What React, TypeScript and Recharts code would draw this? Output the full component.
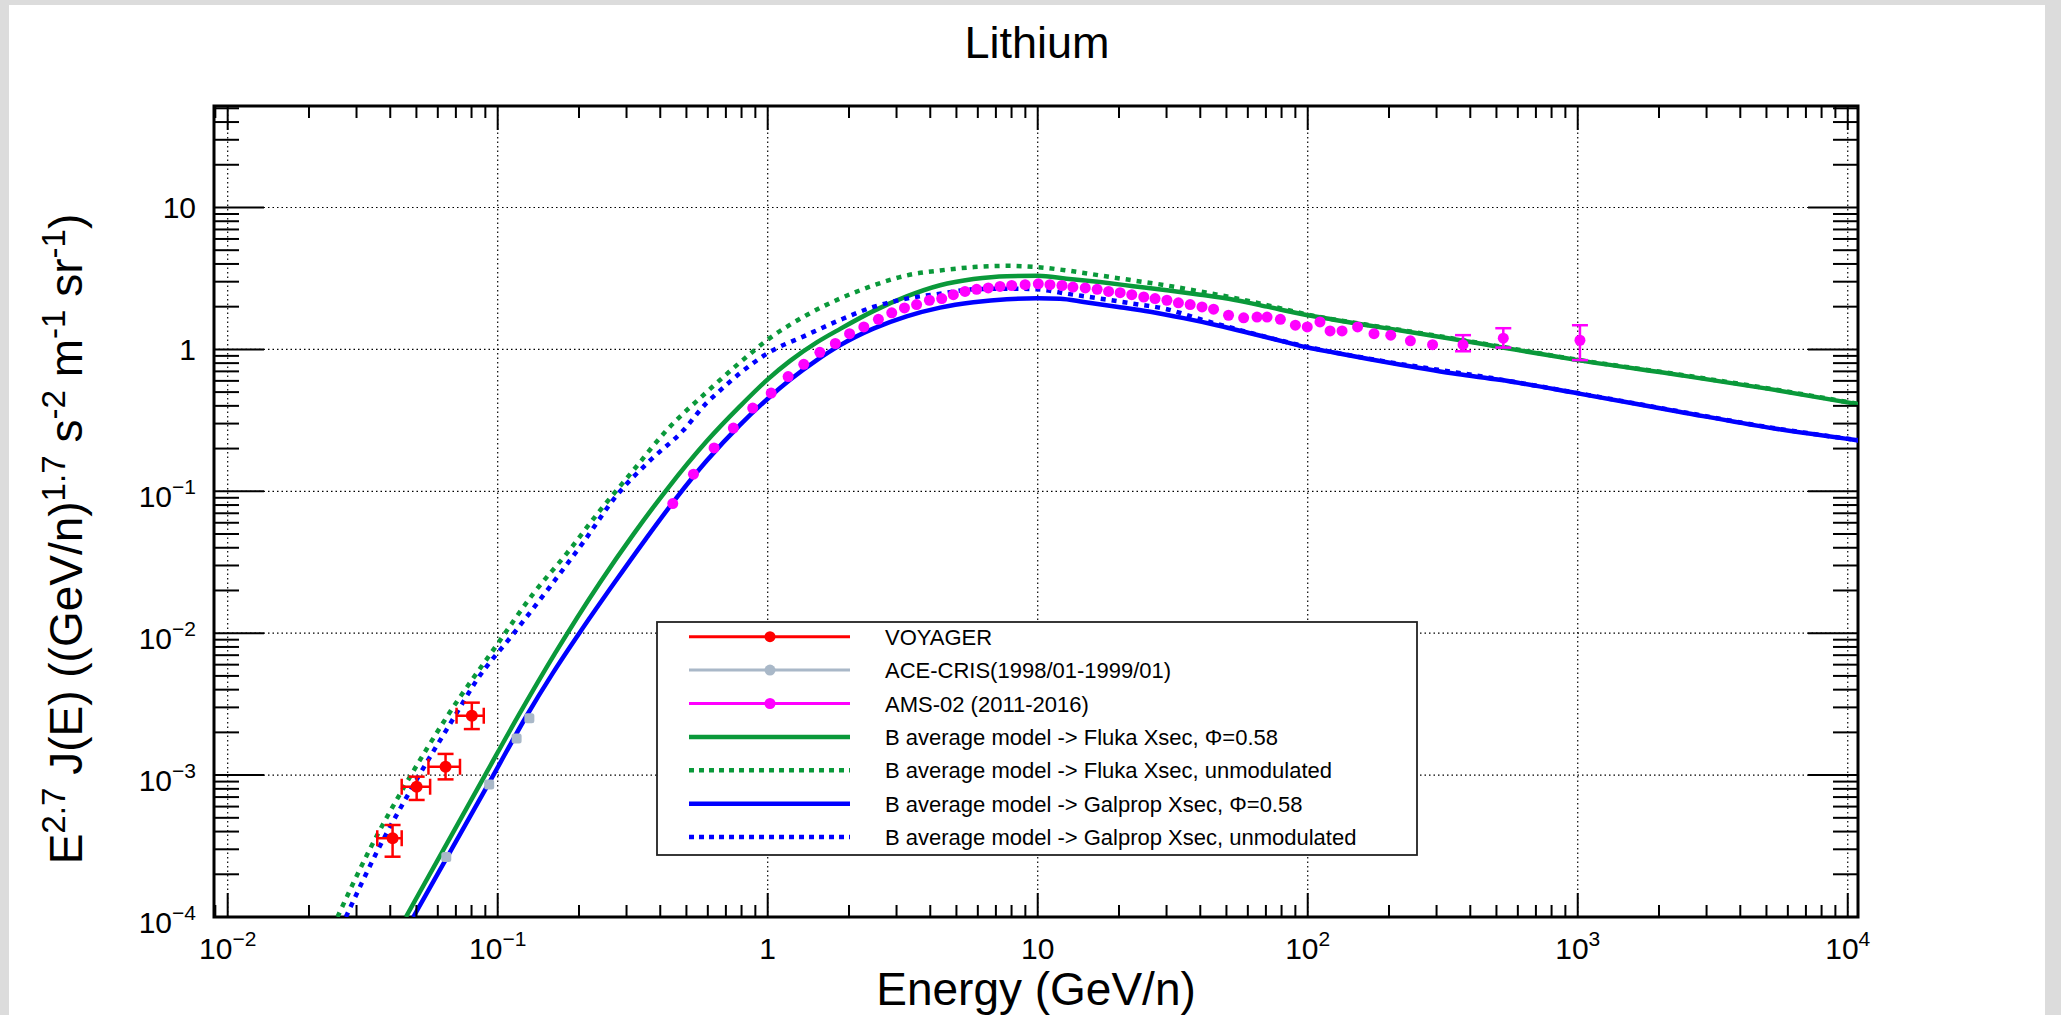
import React from 'react';
import {
  ComposedChart,
  Line,
  Scatter,
  XAxis,
  YAxis,
  ErrorBar,
  ReferenceLine,
  ReferenceArea,
} from 'recharts';

const CANVAS_W = 2061;
const CANVAS_H = 1015;
const FONT = '"Liberation Sans", Arial, Helvetica, sans-serif';

// plot frame in page pixels
const FRAME = { left: 214, top: 106, right: 1858, bottom: 917 };

// ---------- axis ranges and labels ----------
const energyRange: [number, number] = [0.008898, 10914];
const fluxRange: [number, number] = [1e-4, 51.9];

const xDecades = [0.01, 0.1, 1, 10, 100, 1000, 10000];
const xDecadeLabels: [string, string][] = [
  ['10', '\u22122'],
  ['10', '\u22121'],
  ['1', ''],
  ['10', ''],
  ['10', '2'],
  ['10', '3'],
  ['10', '4'],
];
const yDecades = [1e-4, 1e-3, 1e-2, 0.1, 1, 10];
const yDecadeLabels: [string, string][] = [
  ['10', '\u22124'],
  ['10', '\u22123'],
  ['10', '\u22122'],
  ['10', '\u22121'],
  ['1', ''],
  ['10', ''],
];

const chartTitle = 'Lithium';
const xTitle = 'Energy (GeV/n)';

// ---------- measurements ----------
// VOYAGER
const voyagerE = [0.0408, 0.0501, 0.0641, 0.0802];
const voyagerELo = [0.0358, 0.0441, 0.0554, 0.0704];
const voyagerEHi = [0.0441, 0.0562, 0.0725, 0.0888];
const voyagerV = [3.59e-4, 8.28e-4, 1.145e-3, 2.62e-3];
const voyagerVLo = [2.66e-4, 6.68e-4, 9.33e-4, 2.11e-3];
const voyagerVHi = [4.45e-4, 9.75e-4, 1.41e-3, 3.24e-3];

// ACE-CRIS
const aceE = [0.0645, 0.093, 0.1175, 0.131];
const aceV = [2.65e-4, 8.6e-4, 1.81e-3, 2.52e-3];

// AMS-02
const amsE = [
  0.445, 0.531, 0.633, 0.746, 0.88, 1.03, 1.19, 1.36, 1.56, 1.78,
  2.01, 2.27, 2.57, 2.88, 3.21, 3.56, 3.97, 4.41, 4.87, 5.38,
  5.94, 6.56, 7.25, 8.01, 8.98, 10.05, 11.1, 12.3, 13.5, 15.0,
  16.6, 18.3, 20.2, 22.3, 24.7, 27.2, 30.1, 33.2, 36.7, 40.6,
  44.8, 50.9, 57.9, 64.9, 70.7, 79.2, 90, 99.6, 111, 121,
  134, 153, 176, 203, 240, 290, 376, 530, 1019,
];
const amsV = [
  0.082, 0.132, 0.202, 0.279, 0.386, 0.492, 0.643, 0.785, 0.953, 1.1,
  1.29, 1.44, 1.63, 1.81, 1.96, 2.07, 2.22, 2.28, 2.43, 2.56,
  2.65, 2.71, 2.78, 2.82, 2.86, 2.9, 2.86, 2.82, 2.75, 2.71,
  2.65, 2.56, 2.51, 2.43, 2.34, 2.28, 2.22, 2.13, 2.07, 1.99,
  1.92, 1.74, 1.67, 1.69, 1.69, 1.63, 1.48, 1.44, 1.56, 1.35,
  1.35, 1.44, 1.29, 1.26, 1.15, 1.08, 1.08, 1.2, 1.16,
];
// AMS-02 points with visible uncertainties
const amsErrE = [376, 530, 1019];
const amsErrLo = [0.97, 1.03, 0.84];
const amsErrHi = [1.26, 1.41, 1.48];

// ---------- model curves ----------
const flukaModE = [
  0.0457, 0.0898, 0.1193, 0.163, 0.239, 0.318, 0.423, 0.594, 0.79, 1,
  1.21, 1.52, 1.85, 2.46, 3.27, 4.35, 5.78, 7.68, 10, 12.8,
  17, 22.6, 30.1, 40, 53.2, 70.7, 100, 125, 166, 221,
  358, 513, 1000, 2371, 5093, 11000,
];
const flukaModV = [
  1.0e-4, 1.0e-3, 2.62e-3, 7.2e-3, 0.0227, 0.0497, 0.1029, 0.225, 0.398, 0.615,
  0.83, 1.12, 1.39, 1.86, 2.36, 2.83, 3.13, 3.28, 3.3, 3.15,
  2.98, 2.79, 2.61, 2.43, 2.24, 2.0, 1.74, 1.62, 1.48, 1.36,
  1.17, 1.04, 0.84, 0.66, 0.527, 0.41,
];

const flukaUnmodE = [
  0.0255, 0.0336, 0.046, 0.0545, 0.0648, 0.1, 0.1355, 0.18, 0.239, 0.318,
  0.423, 0.594, 0.79, 1, 1.39, 1.85, 2.46, 3.27, 4.35, 5.78,
  7.68, 10, 12.8, 17, 22.6, 30.1, 40, 53.2, 70.7, 100,
  166, 221, 513, 1000, 2371, 5093, 11000,
];
const flukaUnmodV = [
  1.0e-4, 3.0e-4, 8.87e-4, 1.52e-3, 2.57e-3, 8.43e-3, 0.019, 0.0364, 0.073, 0.1406,
  0.27, 0.5, 0.81, 1.17, 1.74, 2.28, 2.82, 3.32, 3.6, 3.8,
  3.88, 3.8, 3.6, 3.32, 3.06, 2.82, 2.56, 2.31, 2.05, 1.76,
  1.49, 1.37, 1.05, 0.845, 0.665, 0.53, 0.412,
];

const galpropModE = [
  0.0487, 0.0964, 0.128, 0.16, 0.202, 0.268, 0.356, 0.46, 0.594, 0.79,
  1, 1.21, 1.52, 1.85, 2.46, 3.27, 4.35, 5.78, 7.68, 10,
  12.1, 14.8, 19.6, 26.1, 34.7, 46.1, 61.3, 81.5, 100, 125,
  166, 221, 358, 513, 1000, 2371, 5093, 11000,
];
const galpropModV = [
  1.0e-4, 1.0e-3, 2.62e-3, 5.23e-3, 0.0102, 0.0221, 0.047, 0.0903, 0.164, 0.294,
  0.449, 0.61, 0.84, 1.067, 1.4, 1.71, 1.97, 2.15, 2.26, 2.29,
  2.27, 2.16, 2.0, 1.84, 1.66, 1.48, 1.3, 1.135, 1.03, 0.95,
  0.86, 0.78, 0.67, 0.61, 0.49, 0.364, 0.281, 0.228,
];

const galpropUnmodE = [
  0.0274, 0.0361, 0.0494, 0.0695, 0.0836, 0.1143, 0.156, 0.208, 0.276, 0.367,
  0.487, 0.594, 0.647, 0.79, 1, 1.39, 1.85, 2.46, 3.27, 4.35,
  5.78, 7.68, 10, 12.8, 17, 22.6, 30.1, 40, 61.3, 100,
  166, 513, 1000, 2371, 5093, 11000,
];
const galpropUnmodV = [
  1.0e-4, 3.0e-4, 8.87e-4, 2.62e-3, 4.66e-3, 9.9e-3, 0.0212, 0.044, 0.0937, 0.165,
  0.269, 0.42, 0.488, 0.68, 0.94, 1.26, 1.61, 1.99, 2.28, 2.47,
  2.65, 2.68, 2.65, 2.47, 2.28, 2.1, 1.92, 1.63, 1.31, 1.04,
  0.865, 0.615, 0.492, 0.366, 0.283, 0.229,
];

const legendLabels = [
  'VOYAGER',
  'ACE-CRIS(1998/01-1999/01)',
  'AMS-02 (2011-2016)',
  'B average model -> Fluka Xsec, \u03A6=0.58',
  'B average model -> Fluka Xsec, unmodulated',
  'B average model -> Galprop Xsec, \u03A6=0.58',
  'B average model -> Galprop Xsec, unmodulated',
];

// ---------- styling ----------
const RED = '#ff0000';
const ACE_GREY = '#a9b8c8';
const MAGENTA = '#ff00ff';
const GREEN = '#0a993a';
const BLUE = '#0000ff';
const DOTS = '5 6';

// ---------- derived tables ----------
const pairs = (es: number[], vs: number[]) => es.map((e, i) => ({ e, v: vs[i] }));

const voyagerData = voyagerE.map((e, i) => ({
  e,
  v: voyagerV[i],
  ex: [e - voyagerELo[i], voyagerEHi[i] - e],
  ey: [voyagerV[i] - voyagerVLo[i], voyagerVHi[i] - voyagerV[i]],
}));
const aceData = pairs(aceE, aceV);
const amsPlain = amsE
  .map((e, i) => ({ e, v: amsV[i] }))
  .filter((p) => amsErrE.indexOf(p.e) < 0);
const amsWithErr = amsErrE.map((e, k) => {
  const v = amsV[amsE.indexOf(e)];
  return { e, v, ey: [v - amsErrLo[k], amsErrHi[k] - v] };
});
const flukaMod = pairs(flukaModE, flukaModV);
const flukaUnmod = pairs(flukaUnmodE, flukaUnmodV);
const galpropMod = pairs(galpropModE, galpropModV);
const galpropUnmod = pairs(galpropUnmodE, galpropUnmodV);

const logTicks = (lo: number, hi: number) => {
  const out: number[] = [];
  for (let p = Math.floor(Math.log10(lo)); p <= Math.ceil(Math.log10(hi)); p++) {
    for (let k = 1; k <= 9; k++) {
      const v = k * Math.pow(10, p);
      if (v >= lo && v <= hi) out.push(v);
    }
  }
  return out;
};
const xTicks = logTicks(energyRange[0], energyRange[1]);
const yTicks = logTicks(fluxRange[0], fluxRange[1]);

const decadeIndex = (list: number[], v: number) =>
  list.findIndex((d) => Math.abs(Math.log10(d) - Math.log10(v)) < 1e-6);

// ---------- tick renderers ----------
const TickLabel = ({ x, y, label, anchor }: { x: number; y: number; label: [string, string]; anchor: 'middle' | 'end' }) => (
  <text x={x} y={y} textAnchor={anchor} fontFamily={FONT} fontSize={30} fill="#000">
    <tspan>{label[0]}</tspan>
    {label[1] ? (
      <tspan fontSize={21} dy={-13}>
        {label[1]}
      </tspan>
    ) : null}
  </text>
);

const BottomTick = (props: any) => {
  const { x, y, payload } = props;
  const idx = decadeIndex(xDecades, payload.value);
  const major = idx >= 0;
  return (
    <g>
      <line x1={x} y1={y} x2={x} y2={y - (major ? 24 : 12)} stroke="#000" strokeWidth={2} />
      {major ? <TickLabel x={x} y={y + 42} label={xDecadeLabels[idx]} anchor="middle" /> : null}
    </g>
  );
};

const TopTick = (props: any) => {
  const { x, y, payload } = props;
  const major = decadeIndex(xDecades, payload.value) >= 0;
  return <line x1={x} y1={y} x2={x} y2={y + (major ? 24 : 12)} stroke="#000" strokeWidth={2} />;
};

const LeftTick = (props: any) => {
  const { x, y, payload } = props;
  const idx = decadeIndex(yDecades, payload.value);
  const major = idx >= 0;
  const lbl = major ? yDecadeLabels[idx] : null;
  return (
    <g>
      <line x1={x} y1={y} x2={x + (major ? 50 : 25)} y2={y} stroke="#000" strokeWidth={2} />
      {lbl ? <TickLabel x={x - 18} y={y + (lbl[1] ? 16 : 11)} label={lbl} anchor="end" /> : null}
    </g>
  );
};

const RightTick = (props: any) => {
  const { x, y, payload } = props;
  const major = decadeIndex(yDecades, payload.value) >= 0;
  return <line x1={x} y1={y} x2={x - (major ? 50 : 25)} y2={y} stroke="#000" strokeWidth={2} />;
};

// ---------- markers ----------
const Dot = (color: string, r: number) => (p: any) =>
  p.cx == null || p.cy == null ? <g /> : <circle cx={p.cx} cy={p.cy} r={r} fill={color} />;
const Square = (color: string, s: number) => (p: any) =>
  p.cx == null || p.cy == null ? <g /> : (
    <rect x={p.cx - s / 2} y={p.cy - s / 2} width={s} height={s} rx={2.5} fill={color} />
  );

// ---------- legend ----------
const legendStyles = [
  { color: RED, width: 3, dash: undefined as string | undefined, marker: true },
  { color: ACE_GREY, width: 3, dash: undefined, marker: true },
  { color: MAGENTA, width: 3, dash: undefined, marker: true },
  { color: GREEN, width: 4.5, dash: undefined, marker: false },
  { color: GREEN, width: 4.5, dash: '5 5', marker: false },
  { color: BLUE, width: 4.5, dash: undefined, marker: false },
  { color: BLUE, width: 4.5, dash: '5 5', marker: false },
];

const LegendBox = () => {
  const w = 760;
  const h = 233;
  return (
    <svg width={w + 4} height={h + 4} style={{ position: 'absolute', left: 655, top: 620 }}>
      <rect x={2} y={2} width={w} height={h} fill="#fff" stroke="#222" strokeWidth={1.8} />
      {legendLabels.map((label, i) => {
        const st = legendStyles[i];
        const cy = 2 + 14.7 + i * 33.4;
        return (
          <g key={label}>
            <line x1={34} x2={195} y1={cy} y2={cy} stroke={st.color} strokeWidth={st.width} strokeDasharray={st.dash} />
            {st.marker ? <circle cx={115} cy={cy} r={5.5} fill={st.color} /> : null}
            <text x={230} y={cy + 8} fontFamily={FONT} fontSize={22} fill="#000">
              {label}
            </text>
          </g>
        );
      })}
    </svg>
  );
};

const supStyle: React.CSSProperties = {
  fontSize: '0.72em',
  position: 'relative',
  top: '-0.5em',
};

const axisCommon = {
  type: 'number' as const,
  scale: 'log' as const,
  allowDataOverflow: true,
  interval: 0 as const,
  tickSize: 0,
  tickMargin: 0,
  axisLine: false,
  tickLine: false,
};

export default function App() {
  // the axes take 1px each, so the margins are reduced by that amount
  const margin = {
    top: FRAME.top - 1,
    right: CANVAS_W - FRAME.right - 1,
    bottom: CANVAS_H - FRAME.bottom - 1,
    left: FRAME.left - 1,
  };
  const axisIds = { xAxisId: 'bx', yAxisId: 'ly' };
  return (
    <div
      style={{
        position: 'absolute',
        left: 0,
        top: 0,
        width: CANVAS_W,
        height: CANVAS_H,
        background: '#dcdcdc',
        overflow: 'hidden',
        fontFamily: FONT,
      }}
    >
      <div style={{ position: 'absolute', left: 9, top: 5, width: 2036, height: CANVAS_H - 5, background: '#fff' }} />
      <ComposedChart width={CANVAS_W} height={CANVAS_H} margin={margin} style={{ position: 'absolute', left: 0, top: 0 }}>
        <XAxis xAxisId="bx" dataKey="e" domain={energyRange} ticks={xTicks} height={1} tick={BottomTick} {...axisCommon} />
        <XAxis xAxisId="tx" orientation="top" dataKey="e" domain={energyRange} ticks={xTicks} height={1} tick={TopTick} {...axisCommon} />
        <YAxis yAxisId="ly" dataKey="v" domain={fluxRange} ticks={yTicks} width={1} tick={LeftTick} {...axisCommon} />
        <YAxis yAxisId="ry" orientation="right" dataKey="v" domain={fluxRange} ticks={yTicks} width={1} tick={RightTick} {...axisCommon} />

        {xDecades.map((d) => (
          <ReferenceLine key={'gx' + d} {...axisIds} x={d} stroke="#000" strokeWidth={1.2} strokeDasharray="1.5 3" />
        ))}
        {yDecades.slice(1).map((d) => (
          <ReferenceLine key={'gy' + d} {...axisIds} y={d} stroke="#000" strokeWidth={1.2} strokeDasharray="1.5 3" />
        ))}

        <Scatter {...axisIds} name={legendLabels[1]} data={aceData} dataKey="v" fill={ACE_GREY} shape={Square(ACE_GREY, 10)} isAnimationActive={false} />

        <Line {...axisIds} name={legendLabels[3]} data={flukaMod} dataKey="v" type="monotone" stroke={GREEN} strokeWidth={4.5} dot={false} activeDot={false} isAnimationActive={false} />
        <Line {...axisIds} name={legendLabels[5]} data={galpropMod} dataKey="v" type="monotone" stroke={BLUE} strokeWidth={4.5} dot={false} activeDot={false} isAnimationActive={false} />
        <Line {...axisIds} name={legendLabels[4]} data={flukaUnmod} dataKey="v" type="monotone" stroke={GREEN} strokeWidth={4.5} strokeDasharray={DOTS} dot={false} activeDot={false} isAnimationActive={false} />
        <Line {...axisIds} name={legendLabels[6]} data={galpropUnmod} dataKey="v" type="monotone" stroke={BLUE} strokeWidth={4.5} strokeDasharray={DOTS} dot={false} activeDot={false} isAnimationActive={false} />

        <Scatter {...axisIds} name={legendLabels[0]} data={voyagerData} dataKey="v" fill={RED} shape={Dot(RED, 6)} isAnimationActive={false}>
          <ErrorBar dataKey="ey" direction="y" width={8} stroke={RED} strokeWidth={2.5} />
          <ErrorBar dataKey="ex" direction="x" width={8} stroke={RED} strokeWidth={2.5} />
        </Scatter>
        <Scatter {...axisIds} name={legendLabels[2]} data={amsPlain} dataKey="v" fill={MAGENTA} shape={Dot(MAGENTA, 5.5)} isAnimationActive={false} />
        <Scatter {...axisIds} name={legendLabels[2] + ' '} data={amsWithErr} dataKey="v" fill={MAGENTA} shape={Dot(MAGENTA, 5.5)} isAnimationActive={false}>
          <ErrorBar dataKey="ey" direction="y" width={8} stroke={MAGENTA} strokeWidth={2.5} />
        </Scatter>

        <ReferenceArea
          {...axisIds}
          x1={energyRange[0]}
          x2={energyRange[1]}
          y1={fluxRange[0]}
          y2={fluxRange[1]}
          fill="none"
          fillOpacity={0}
          stroke="#000"
          strokeWidth={3}
          ifOverflow="visible"
        />
      </ComposedChart>

      <LegendBox />

      <div
        style={{
          position: 'absolute',
          left: 1037,
          top: 42 - 22,
          transform: 'translateX(-50%)',
          fontSize: 45,
          lineHeight: 1,
          whiteSpace: 'nowrap',
        }}
      >
        {chartTitle}
      </div>
      <div
        style={{
          position: 'absolute',
          left: 1036,
          top: 988 - 22,
          transform: 'translateX(-50%)',
          fontSize: 46,
          lineHeight: 1,
          whiteSpace: 'nowrap',
        }}
      >
        {xTitle}
      </div>
      <div
        style={{
          position: 'absolute',
          left: 66,
          top: 539,
          transform: 'translate(-50%, -50%) rotate(-90deg)',
          fontSize: 46,
          lineHeight: 1,
          whiteSpace: 'nowrap',
        }}
      >
        E<span style={supStyle}>2.7</span> J(E) ((GeV/n)<span style={supStyle}>1.7</span> s
        <span style={supStyle}>-2</span> m<span style={supStyle}>-1</span> sr<span style={supStyle}>-1</span>)
      </div>
    </div>
  );
}
